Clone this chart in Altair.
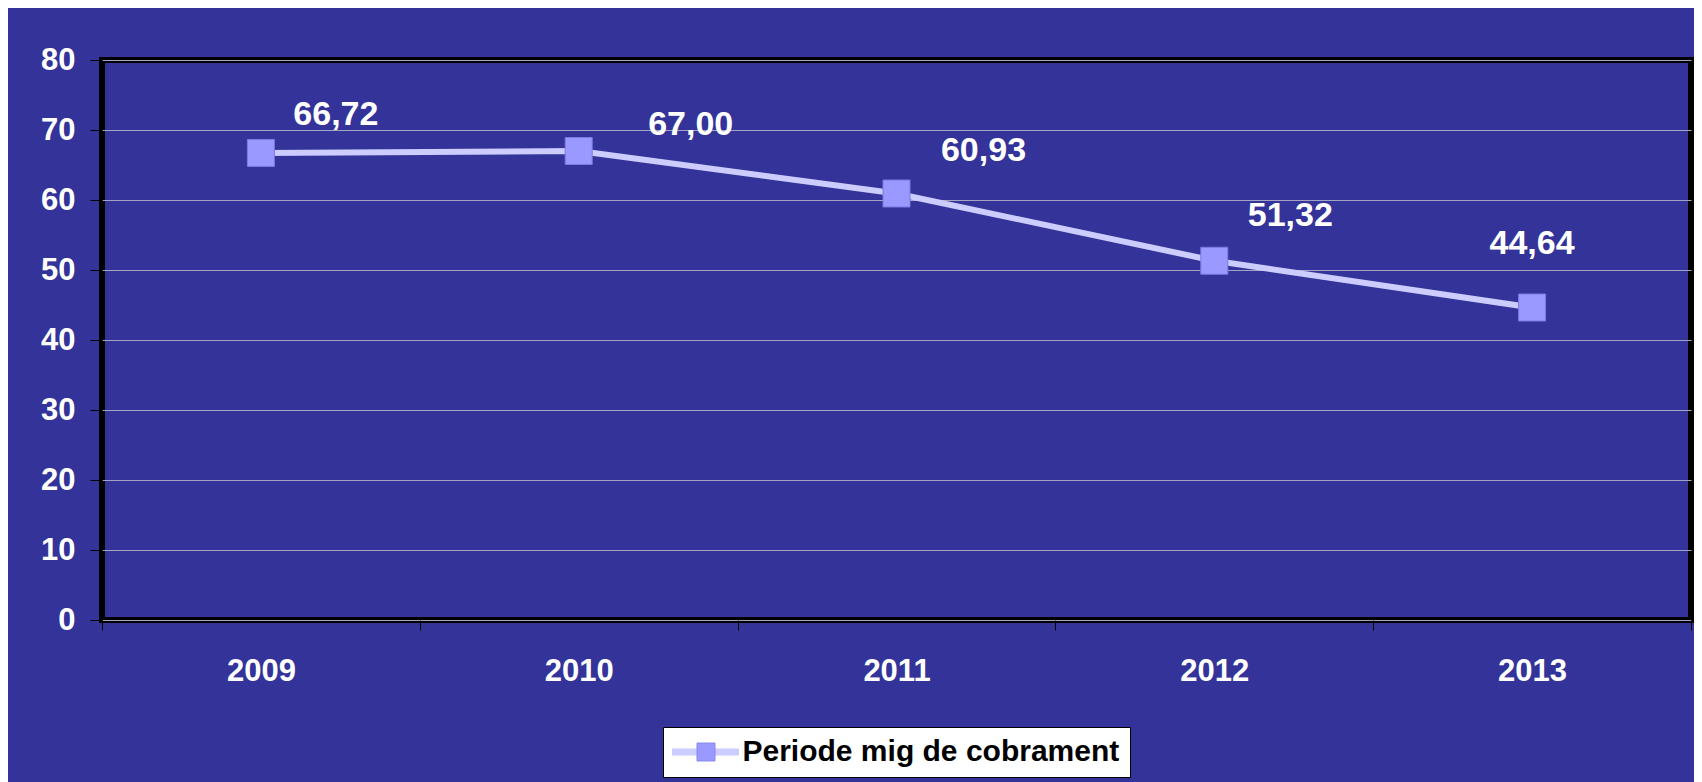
import altair as alt
import pandas as pd

# ---- data ----
years = ["2009", "2010", "2011", "2012", "2013"]
values = [66.72, 67.00, 60.93, 51.32, 44.64]
series_name = "Periode mig de cobrament"

# label placement offsets (style, pixels relative to each point)
label_dx = [75, 112, 87, 76, 0]
label_dy = [-38, -26, -42, -45, -64]

df = pd.DataFrame({
    "year": years,
    "value": values,
    "serie": [series_name] * len(years),
    "serie_pt": [series_name] * len(years),
})

FONT = "Liberation Sans"
BG = "#333399"

x_enc = alt.X("year:N", sort=years,
              scale=alt.Scale(type="band", paddingInner=0, paddingOuter=0),
              axis=alt.Axis(title=None, labelAngle=0, tickBand="extent", domain=False,
                            grid=False, ticks=True, tickColor="black", tickSize=10, tickWidth=1,
                            labelFont=FONT, labelFontSize=31, labelFontWeight="bold",
                            labelColor="white", labelPadding=26))
y_enc = alt.Y("value:Q",
              scale=alt.Scale(domain=[0, 80], nice=False, zero=True),
              axis=alt.Axis(title=None, values=list(range(0, 81, 10)), domain=False,
                            grid=True, gridColor="#a3a3c4", gridWidth=1,
                            tickColor="black", tickSize=12, tickWidth=1,
                            labelFont=FONT, labelFontSize=31, labelFontWeight="bold",
                            labelColor="white", labelPadding=15))

base = alt.Chart(df)

line = base.mark_line(strokeWidth=6).encode(
    x=x_enc, y=y_enc,
    color=alt.Color("serie:N", scale=alt.Scale(range=["#CCCCFF"]),
                    legend=alt.Legend(title=None, orient="none", legendX=561, legendY=667,
                                      fillColor="white", strokeColor="black",
                                      padding=10, cornerRadius=0, zindex=1,
                                      symbolType="M-3.35,0H3.35", symbolSize=400,
                                      symbolStrokeWidth=7, symbolOffset=17.5,
                                      labelOffset=22, labelFont=FONT, labelFontSize=30,
                                      labelFontWeight="bold", labelColor="black", labelLimit=0)),
)

points = base.mark_point(shape="square", filled=True, size=729, opacity=1,
                         stroke="#7a7ae0", strokeWidth=1).encode(
    x=x_enc, y=y_enc,
    fill=alt.Fill("serie_pt:N", scale=alt.Scale(range=["#9999FF"]),
                  legend=alt.Legend(title=None, orient="none", legendX=561, legendY=667,
                                    padding=10, zindex=2, symbolType="square", symbolSize=324,
                                    symbolOffset=18, symbolStrokeColor="#8a8ae8",
                                    symbolStrokeWidth=1,
                                    labelOffset=22, labelFont=FONT, labelFontSize=30,
                                    labelFontWeight="bold", labelOpacity=0, labelLimit=0)),
)

text_layers = []
for yr, dx, dy in zip(years, label_dx, label_dy):
    t = base.transform_filter(alt.datum.year == yr).transform_calculate(
        lab="replace(format(datum.value, '.2f'), '.', ',')"
    ).mark_text(font=FONT, fontSize=34, fontWeight="bold", color="white",
                align="center", baseline="middle", dx=dx, dy=dy).encode(
        x=x_enc, y=y_enc, text="lab:N")
    text_layers.append(t)

chart = alt.layer(line, points, *text_layers).properties(
    width=1589, height=560,
    autosize=alt.AutoSizeParams(type="none"),
    padding={"left": 94, "top": 52, "right": 3, "bottom": 162},
    background=BG,
).configure_view(
    stroke="black", strokeWidth=6, fill=BG
)

chart.save("out.html", embed_options={"renderer": "svg", "actions": False})
